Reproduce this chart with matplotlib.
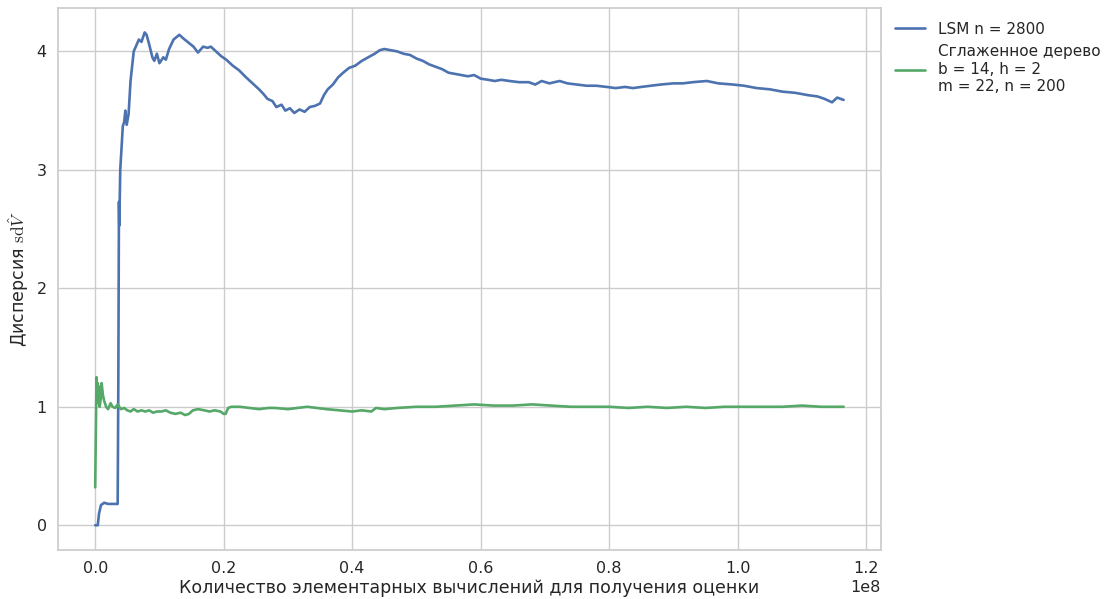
import numpy as np
import matplotlib
matplotlib.use("Agg")
import matplotlib.pyplot as plt
import seaborn as sns

# LSM estimator: number of elementary operations (x1e8) vs sd of the estimate
lsm_ops = [0.000, 0.004, 0.006, 0.009, 0.014, 0.020, 0.030, 0.035, 0.036, 0.037,
           0.0375, 0.039, 0.043, 0.045, 0.047, 0.049, 0.052, 0.055, 0.058, 0.060,
           0.064, 0.068, 0.072, 0.077, 0.080, 0.084, 0.089, 0.092, 0.096, 0.100,
           0.106, 0.110, 0.115, 0.122, 0.131, 0.137, 0.146, 0.153, 0.160, 0.168,
           0.175, 0.180, 0.188, 0.196, 0.204, 0.214, 0.224, 0.235, 0.245, 0.255,
           0.262, 0.268, 0.276, 0.282, 0.290, 0.296, 0.303, 0.310, 0.318, 0.326,
           0.334, 0.342, 0.350, 0.356, 0.362, 0.370, 0.378, 0.386, 0.395, 0.405,
           0.415, 0.425, 0.435, 0.443, 0.450, 0.460, 0.470, 0.480, 0.490, 0.500,
           0.510, 0.520, 0.530, 0.540, 0.550, 0.560, 0.570, 0.580, 0.590, 0.600,
           0.612, 0.622, 0.632, 0.645, 0.660, 0.675, 0.685, 0.695, 0.707, 0.715,
           0.723, 0.735, 0.750, 0.765, 0.780, 0.796, 0.810, 0.825, 0.837, 0.850,
           0.865, 0.880, 0.900, 0.915, 0.930, 0.952, 0.970, 0.993, 1.010, 1.030,
           1.050, 1.070, 1.090, 1.110, 1.124, 1.135, 1.147, 1.155, 1.165]
lsm_sd = [0.00, 0.00, 0.10, 0.17, 0.19, 0.18, 0.18, 0.18, 1.20, 2.73,
          2.53, 3.00, 3.37, 3.40, 3.50, 3.38, 3.47, 3.75, 3.90, 4.00,
          4.05, 4.10, 4.08, 4.16, 4.14, 4.06, 3.95, 3.92, 3.98, 3.90,
          3.95, 3.93, 4.02, 4.10, 4.14, 4.11, 4.07, 4.04, 3.99, 4.04,
          4.03, 4.04, 4.00, 3.96, 3.93, 3.88, 3.84, 3.78, 3.73, 3.68,
          3.64, 3.60, 3.58, 3.53, 3.55, 3.50, 3.52, 3.48, 3.51, 3.49,
          3.53, 3.54, 3.56, 3.63, 3.68, 3.72, 3.78, 3.82, 3.86, 3.88,
          3.92, 3.95, 3.98, 4.01, 4.02, 4.01, 4.00, 3.98, 3.97, 3.94,
          3.92, 3.89, 3.87, 3.85, 3.82, 3.81, 3.80, 3.79, 3.80, 3.77,
          3.76, 3.75, 3.76, 3.75, 3.74, 3.74, 3.72, 3.75, 3.73, 3.74,
          3.75, 3.73, 3.72, 3.71, 3.71, 3.70, 3.69, 3.70, 3.69, 3.70,
          3.71, 3.72, 3.73, 3.73, 3.74, 3.75, 3.73, 3.72, 3.71, 3.69,
          3.68, 3.66, 3.65, 3.63, 3.62, 3.60, 3.57, 3.61, 3.59]

# smoothed tree estimator
tree_ops = [0.000, 0.002, 0.003, 0.004, 0.005, 0.006, 0.007, 0.009, 0.010, 0.012,
            0.014, 0.017, 0.020, 0.024, 0.027, 0.031, 0.035, 0.040, 0.045, 0.050,
            0.055, 0.060, 0.066, 0.072, 0.078, 0.084, 0.090, 0.096, 0.103, 0.110,
            0.117, 0.125, 0.133, 0.140, 0.146, 0.152, 0.160, 0.170, 0.178, 0.186,
            0.195, 0.200, 0.203, 0.207, 0.212, 0.225, 0.240, 0.255, 0.270, 0.280,
            0.300, 0.315, 0.330, 0.345, 0.360, 0.380, 0.400, 0.415, 0.430, 0.437,
            0.450, 0.470, 0.500, 0.530, 0.560, 0.590, 0.620, 0.650, 0.680, 0.710,
            0.740, 0.770, 0.800, 0.830, 0.860, 0.890, 0.920, 0.950, 0.980, 1.010,
            1.040, 1.070, 1.100, 1.130, 1.165]
tree_sd = [0.32, 1.25, 1.12, 1.20, 1.03, 1.17, 1.00, 1.08, 1.20, 1.10,
           1.05, 1.00, 0.98, 1.03, 1.00, 0.99, 1.02, 0.98, 0.99, 0.97,
           0.96, 0.98, 0.96, 0.97, 0.96, 0.97, 0.95, 0.96, 0.96, 0.97,
           0.95, 0.94, 0.95, 0.93, 0.94, 0.97, 0.98, 0.97, 0.96, 0.97,
           0.96, 0.94, 0.94, 0.99, 1.00, 1.00, 0.99, 0.98, 0.99, 0.99,
           0.98, 0.99, 1.00, 0.99, 0.98, 0.97, 0.96, 0.97, 0.96, 0.99,
           0.98, 0.99, 1.00, 1.00, 1.01, 1.02, 1.01, 1.01, 1.02, 1.01,
           1.00, 1.00, 1.00, 0.99, 1.00, 0.99, 1.00, 0.99, 1.00, 1.00,
           1.00, 1.00, 1.01, 1.00, 1.00]

lsm_label = "LSM n = 2800"
tree_label = "Сглаженное дерево\nb = 14, h = 2\nm = 22, n = 200"

sns.set_theme(style="whitegrid")
plt.rcParams["mathtext.fontset"] = "cm"

fig, ax = plt.subplots(figsize=(11.11, 5.99), dpi=100)
fig.subplots_adjust(left=0.052, right=0.793, top=0.987, bottom=0.082)

ax.plot(np.array(lsm_ops) * 1e8, lsm_sd, lw=1.9, color="#4C72B0", label=lsm_label)
ax.plot(np.array(tree_ops) * 1e8, tree_sd, lw=1.9, color="#55A868", label=tree_label)

ax.tick_params(labelsize=11.5, pad=2)
ax.xaxis.get_offset_text().set_fontsize(11.5)
ax.set_xlabel("Количество элементарных вычислений для получения оценки",
              fontsize=12.5, labelpad=2)
ax.set_ylabel(r"Дисперсия $\mathrm{sd}\hat{V}$", fontsize=12.5)
ax.legend(loc="upper left", bbox_to_anchor=(1.0, 1.0), frameon=False, fontsize=11)

fig.savefig("out.png", dpi=100)
